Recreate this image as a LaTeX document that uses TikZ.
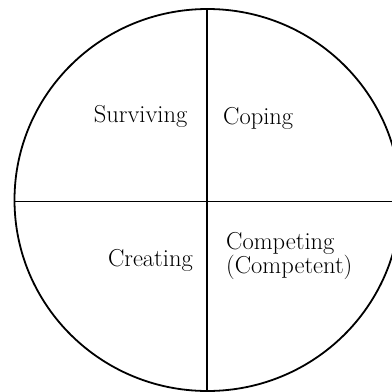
\documentclass[tikz,border=0pt]{standalone}
\begin{document}
\begin{tikzpicture}[x=1pt,y=-1pt,
  divider/.style={line width=1.8pt},
  label/.style={inner sep=0pt, font=\fontsize{24.5}{27}\selectfont}]
\useasboundingbox (0,0) rectangle (392,392);
\clip (0,0) rectangle (392,392);
\coordinate (center) at (207.5,200);
\draw[divider] (center) ellipse [x radius=193, y radius=191];
\coordinate (vtop) at (207,9);
\coordinate (vbot) at (207,396);
\coordinate (hleft) at (14.7,201.5);
\coordinate (hright) at (400,201.5);
\draw[divider] (vtop) -- (vbot);
\draw[divider] (hleft) -- (hright);
\node[label, anchor=base east] (surv) at (187.5,122) {Surviving};
\node[label, anchor=base west] (cop) at (223,124) {Coping};
\node[label, anchor=base east] (crea) at (193,266) {Creating};
\node[label, anchor=base west] (comp1) at (226,249.5) {Competing};
\node[label, anchor=base west] (comp2) at (226,273.5) {(Competent)};
\end{tikzpicture}
\end{document}
